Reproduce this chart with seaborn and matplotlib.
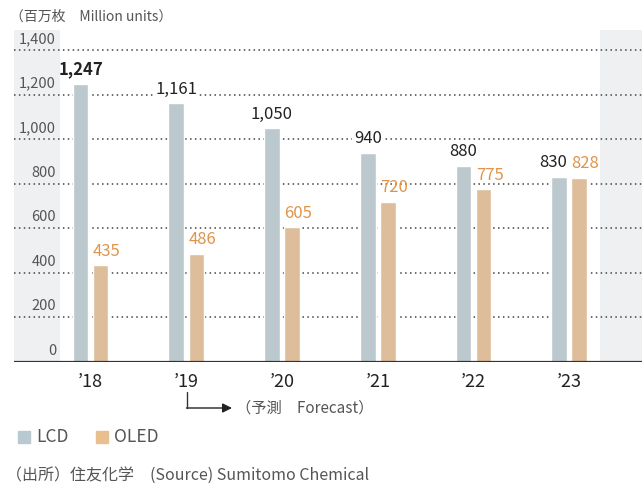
import pandas as pd
import matplotlib.pyplot as plt
import seaborn as sns
from matplotlib.patches import Rectangle

# Panel shipments, million units
years = ["’18", "’19", "’20", "’21", "’22", "’23"]
lcd = [1247, 1161, 1050, 940, 880, 830]
oled = [435, 486, 605, 720, 775, 828]
lcd_labels = ["1,247", "1,161", "1,050", "940", "880", "830"]
oled_labels = ["435", "486", "605", "720", "775", "828"]
yticks = [0, 200, 400, 600, 800, 1000, 1200, 1400]
ytick_labels = ["0", "200", "400", "600", "800", "1,000", "1,200", "1,400"]

sns.set_style("white")
plt.rcParams['font.family'] = ['Noto Sans CJK JP', 'DejaVu Sans']

df = pd.DataFrame({
    'year': years * 2,
    'type': ['LCD'] * len(years) + ['OLED'] * len(years),
    'value': lcd + oled,
})

c_lcd = '#b8c9d1'
c_oled = '#e9bf8f'
c_text = '#555555'

fig = plt.figure(figsize=(6.42, 4.83), dpi=100)
ax = fig.add_axes([14 / 642, 121 / 483, 628 / 642, 332 / 483])

sns.barplot(data=df, x='year', y='value', hue='type', palette=[c_lcd, c_oled],
            width=0.42, gap=0.22, legend=False, ax=ax, zorder=3)

xmin, xmax = -0.80, 5.76
ax.set_xlim(xmin, xmax)
ax.set_ylim(0, 1490)

# shaded side bands
ax.add_patch(Rectangle((xmin, 0), 0.48, 1490, color='#eff0f2', zorder=0, lw=0))
ax.add_patch(Rectangle((5.32, 0), xmax - 5.32, 1490, color='#eff0f2', zorder=0, lw=0))

for v in yticks[1:]:
    ax.axhline(v, color='#444444', lw=1.1, ls=(0, (1, 2.2)), zorder=1)
ax.axhline(0, color='#333333', lw=1.6, zorder=4)

for v, lab in zip(yticks, ytick_labels):
    ax.text(-0.36, v + 18, lab, ha='right', va='bottom', fontsize=10.5, color=c_text)

slot = 0.42 / 2
for i in range(len(years)):
    ha = 'right' if i == len(years) - 1 else 'center'
    xl = i - slot / 2 + (0.08 if ha == 'right' else 0)
    ax.text(xl, lcd[i] + 25, lcd_labels[i], ha=ha, va='bottom', fontsize=12,
            color='#222222', zorder=5, fontweight='bold' if i == 0 else 'normal',
            bbox=dict(facecolor='white', edgecolor='none', pad=1) if i in (1, 2, 3, 4) else None)
    ax.text(i + slot / 2 - slot * 0.39, oled[i] + 25, oled_labels[i], ha='left',
            va='bottom', fontsize=12, color='#e0944a', zorder=5)

ax.set_xticks(range(len(years)))
ax.set_xticklabels(years, fontsize=13, color='#222222')
ax.tick_params(axis='x', length=0, pad=8)
ax.set_yticks([])
ax.set_xlabel('')
ax.set_ylabel('')
for s in ax.spines.values():
    s.set_visible(False)

# texts outside axes (figure pixel coords)
def ftext(x, y, s, **kw):
    fig.text(x / 642, 1 - y / 483, s, **kw)

ftext(10, 17, "（百万枚　Million units）", fontsize=10, color=c_text, va='center')

# forecast arrow
fig.add_artist(plt.Line2D([187 / 642, 187 / 642], [1 - 392 / 483, 1 - 408 / 483],
                          color='#333333', lw=1))
ax.annotate('', xy=(232 / 642, 1 - 408 / 483), xytext=(186.5 / 642, 1 - 408 / 483),
            xycoords='figure fraction', textcoords='figure fraction',
            arrowprops=dict(arrowstyle='-|>', color='#222222', lw=1,
                            mutation_scale=14, shrinkA=0, shrinkB=0))
ftext(236, 408, "（予測　Forecast）", fontsize=11, color=c_text, va='center')

# legend
fig.add_artist(Rectangle((18 / 642, 1 - 443 / 483), 12 / 642, 12 / 483,
                         color=c_lcd, transform=fig.transFigure))
ftext(36, 437, "LCD", fontsize=12.5, color=c_text, va='center')
fig.add_artist(Rectangle((96 / 642, 1 - 443 / 483), 12 / 642, 12 / 483,
                         color=c_oled, transform=fig.transFigure))
ftext(114, 437, "OLED", fontsize=12.5, color=c_text, va='center')

ftext(6, 475, "（出所）住友化学　(Source) Sumitomo Chemical", fontsize=11.5,
      color=c_text, va='center')

fig.savefig('out.png', dpi=100)
